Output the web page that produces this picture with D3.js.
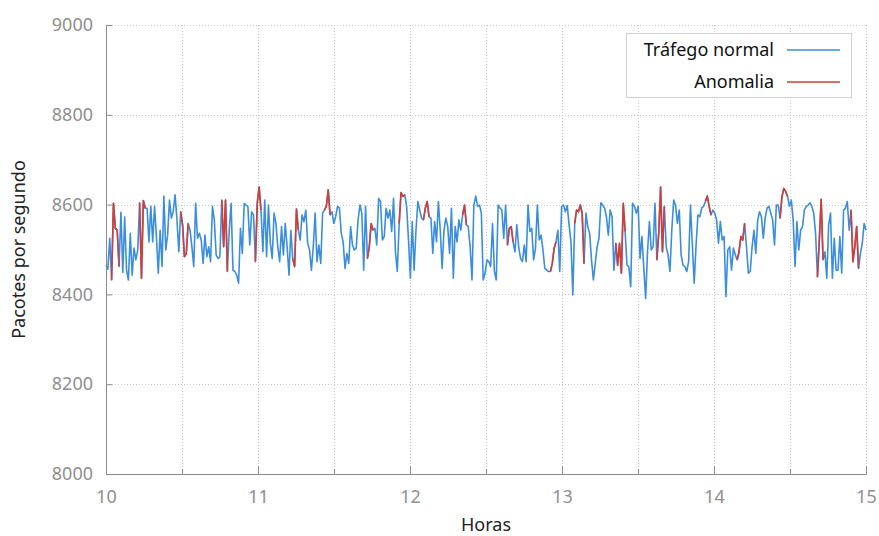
<!DOCTYPE html>
<html>
<head>
<meta charset="utf-8">
<script src="https://cdn.jsdelivr.net/npm/d3@7"></script>
<style>
  body { margin: 0; background: #fff; }
  svg { font-family: "Noto Sans", sans-serif; }
</style>
</head>
<body>
<svg id="chart"></svg>
<script>
// packets per second, one reading per sample, 10h -> 15h
const packets = [
  8465, 8456, 8525, 8432, 8603, 8547, 8543, 8462, 8583, 8449,
  8572, 8454, 8432, 8536, 8443, 8503, 8477, 8499, 8604, 8436,
  8609, 8592, 8592, 8517, 8596, 8517, 8596, 8529, 8447, 8543,
  8462, 8619, 8499, 8532, 8610, 8570, 8584, 8622, 8566, 8495,
  8584, 8555, 8484, 8491, 8558, 8543, 8506, 8462, 8603, 8525,
  8536, 8521, 8469, 8532, 8484, 8506, 8473, 8596, 8566, 8488,
  8480, 8484, 8610, 8506, 8610, 8451, 8543, 8603,
  8454, 8451, 8443, 8425, 8547, 8491, 8603, 8599, 8596, 8510,
  8584, 8577, 8473, 8603, 8639, 8588, 8495, 8610, 8484, 8599,
  8514, 8480, 8581, 8558, 8506, 8473, 8551, 8488, 8558, 8506,
  8443, 8543, 8480, 8462, 8590, 8543, 8521, 8577, 8562, 8588,
  8514, 8499, 8454, 8506, 8581, 8473, 8510, 8469, 8581, 8588,
  8596, 8633, 8577, 8584, 8558, 8573, 8596, 8592, 8536, 8517,
  8458, 8491, 8469, 8551, 8510, 8499, 8503, 8566, 8599,
  8581, 8454, 8596, 8480, 8506, 8558, 8543, 8547, 8510, 8614,
  8607, 8521, 8529, 8592, 8570, 8588, 8540, 8614, 8495, 8451,
  8558, 8627, 8618, 8622, 8596, 8521, 8436, 8562, 8454, 8543,
  8607, 8588, 8570, 8566, 8592, 8607, 8573, 8570, 8491, 8562,
  8517, 8607, 8543, 8458, 8543, 8570, 8551, 8491, 8592, 8436,
  8551, 8517, 8566, 8543, 8577, 8599, 8555, 8551, 8506, 8432,
  8599, 8619, 8596, 8599, 8581, 8432, 8447, 8477, 8473, 8462,
  8558, 8451, 8432, 8599, 8592, 8588, 8525, 8599, 8510, 8547,
  8551, 8517, 8495, 8555, 8506, 8480, 8473, 8510, 8473, 8599,
  8540, 8547, 8477, 8503, 8599, 8521, 8532, 8499, 8458, 8454,
  8451, 8451, 8469, 8503, 8517, 8543, 8451, 8596, 8599, 8584,
  8598, 8555, 8517, 8399, 8558, 8588, 8584, 8599, 8581, 8469,
  8581, 8551, 8536, 8477, 8432, 8469, 8506, 8525, 8604, 8599,
  8592, 8573, 8532, 8588, 8573, 8454, 8514, 8465, 8514,
  8447, 8603, 8540,
  8465, 8462, 8417, 8603, 8596, 8581, 8596, 8480, 8529, 8458,
  8391, 8495, 8562, 8499, 8506, 8603, 8477, 8536, 8639, 8495,
  8596, 8506, 8488, 8451, 8543, 8610, 8599, 8558, 8588, 8488,
  8465, 8462, 8451, 8473, 8599, 8510, 8425, 8510, 8577, 8573,
  8592, 8596, 8607, 8619, 8596, 8577, 8588, 8581, 8566, 8514,
  8562, 8521, 8529, 8395, 8499, 8506, 8454, 8503, 8488, 8477,
  8495, 8529, 8521, 8558, 8506, 8447, 8451, 8506, 8543, 8491,
  8566, 8584, 8573, 8525, 8570, 8592, 8596, 8581, 8566, 8510,
  8599, 8599, 8570, 8618, 8636, 8629, 8618, 8596, 8610, 8566,
  8462, 8562, 8499, 8543, 8551, 8588, 8596, 8599, 8604, 8596,
  8581, 8536, 8439, 8521, 8612, 8477, 8495, 8436, 8555, 8581,
  8436, 8525, 8454, 8454, 8529, 8447, 8588, 8592, 8607, 8543,
  8588, 8473, 8506, 8551, 8458, 8491, 8514, 8558, 8543
];

// sample index ranges flagged as anomaly (drawn in red)
const anomalyRanges = [
  [3, 7], [18, 21], [40, 44], [62, 65], [80, 83], [100, 103], [117, 120],
  [140, 143], [157, 160], [170, 173], [191, 193], [215, 218], [238, 241],
  [251, 256], [273, 278], [295, 299], [321, 324], [338, 342], [361, 365],
  [381, 384], [399, 403]
];

const startHour = 10;
const endHour = 15;
const hourTicks = [10, 11, 12, 13, 14, 15];
const halfHourTicks = [10.5, 11.5, 12.5, 13.5, 14.5];
const valueTicks = [8000, 8200, 8400, 8600, 8800, 9000];
const seriesNames = ["Tráfego normal", "Anomalia"];
const seriesColors = ["#3b8ede", "#d63c36"];

const w = 879;
const h = 536;
const margin = { top: 25, right: 13, bottom: 62, left: 106 };
const fontSize = "18px";

const svg = d3.select("#chart")
    .attr("width", w)
    .attr("height", h);

// sample times, evenly spaced over the window
const times = packets.map((d, i) => startHour + (endHour - startHour) * i / (packets.length - 1));

const xScale = d3.scaleLinear()
    .domain([startHour, endHour])
    .range([margin.left, w - margin.right]);

const yScale = d3.scaleLinear()
    .domain([8000, 9000])
    .range([h - margin.bottom, margin.top]);

// dotted grid
const grid = svg.append("g").attr("class", "grid")
    .attr("stroke", "#c8c8c8")
    .attr("stroke-width", 1)
    .attr("stroke-dasharray", "1,2");

grid.selectAll("line.v")
    .data(hourTicks.concat(halfHourTicks).filter(d => d > startHour))
    .enter().append("line")
    .attr("class", "v")
    .attr("x1", d => Math.round(xScale(d)) + 0.5)
    .attr("x2", d => Math.round(xScale(d)) + 0.5)
    .attr("y1", yScale(9000))
    .attr("y2", yScale(8000));

grid.selectAll("line.h")
    .data(valueTicks.filter(d => d > 8000))
    .enter().append("line")
    .attr("class", "h")
    .attr("x1", xScale(startHour))
    .attr("x2", xScale(endHour))
    .attr("y1", d => Math.round(yScale(d)) + 0.5)
    .attr("y2", d => Math.round(yScale(d)) + 0.5);

// lines
const line = d3.line()
    .x(d => xScale(d.t))
    .y(d => yScale(d.v));

const points = packets.map((v, i) => ({ t: times[i], v }));

svg.append("path")
    .datum(points)
    .attr("fill", "none")
    .attr("stroke", seriesColors[0])
    .attr("stroke-width", 1.6)
    .attr("stroke-linejoin", "round")
    .attr("d", line);

svg.selectAll("path.anomaly")
    .data(anomalyRanges)
    .enter().append("path")
    .attr("class", "anomaly")
    .attr("fill", "none")
    .attr("stroke", seriesColors[1])
    .attr("stroke-width", 1.6)
    .attr("stroke-linejoin", "round")
    .attr("d", r => line(points.slice(r[0], r[1] + 1)));

// axes
const xAxis = d3.axisBottom(xScale)
    .tickValues(hourTicks)
    .tickFormat(d3.format("d"))
    .tickSizeInner(-8)
    .tickSizeOuter(0)
    .tickPadding(16);

const xMinor = d3.axisBottom(xScale)
    .tickValues(halfHourTicks)
    .tickFormat("")
    .tickSizeInner(-5)
    .tickSizeOuter(0);

const yAxis = d3.axisLeft(yScale)
    .tickValues(valueTicks)
    .tickFormat(d3.format("d"))
    .tickSizeInner(-6)
    .tickSizeOuter(0)
    .tickPadding(13);

function styleAxis(g) {
    g.selectAll("path, line").attr("stroke", "#8c8c8c");
    g.selectAll("text")
        .attr("fill", "#8f8f8f")
        .style("font-size", fontSize)
        .style("font-family", "'Noto Sans', sans-serif");
}

svg.append("g")
    .attr("transform", `translate(0, ${h - margin.bottom})`)
    .call(xMinor)
    .call(styleAxis);

svg.append("g")
    .attr("class", "x axis")
    .attr("transform", `translate(0, ${h - margin.bottom})`)
    .call(xAxis)
    .call(styleAxis);

svg.append("g")
    .attr("class", "y axis")
    .attr("transform", `translate(${margin.left}, 0)`)
    .call(yAxis)
    .call(styleAxis);

// axis titles
svg.append("text")
    .attr("x", (xScale(startHour) + xScale(endHour)) / 2)
    .attr("y", 531)
    .attr("text-anchor", "middle")
    .attr("fill", "#222")
    .style("font-size", fontSize)
    .text("Horas");

svg.append("text")
    .attr("transform", `translate(25, ${(yScale(8000) + yScale(9000)) / 2}) rotate(-90)`)
    .attr("text-anchor", "middle")
    .attr("fill", "#222")
    .style("font-size", fontSize)
    .text("Pacotes por segundo");

// legend
const legend = svg.append("g").attr("class", "legend");

legend.append("rect")
    .attr("x", 626.5)
    .attr("y", 33.5)
    .attr("width", 225)
    .attr("height", 64)
    .attr("fill", "#fff")
    .attr("stroke", "#d0d0d0");

const items = legend.selectAll("g.item")
    .data(seriesNames)
    .enter().append("g")
    .attr("class", "item")
    .attr("transform", (d, i) => `translate(0, ${50 + i * 32})`);

items.append("text")
    .attr("x", 774)
    .attr("dy", "0.35em")
    .attr("text-anchor", "end")
    .attr("fill", "#111")
    .style("font-size", fontSize)
    .text(d => d);

items.append("line")
    .attr("x1", 787)
    .attr("x2", 840)
    .attr("stroke", (d, i) => seriesColors[i])
    .attr("stroke-width", 1.5);
</script>
</body>
</html>
